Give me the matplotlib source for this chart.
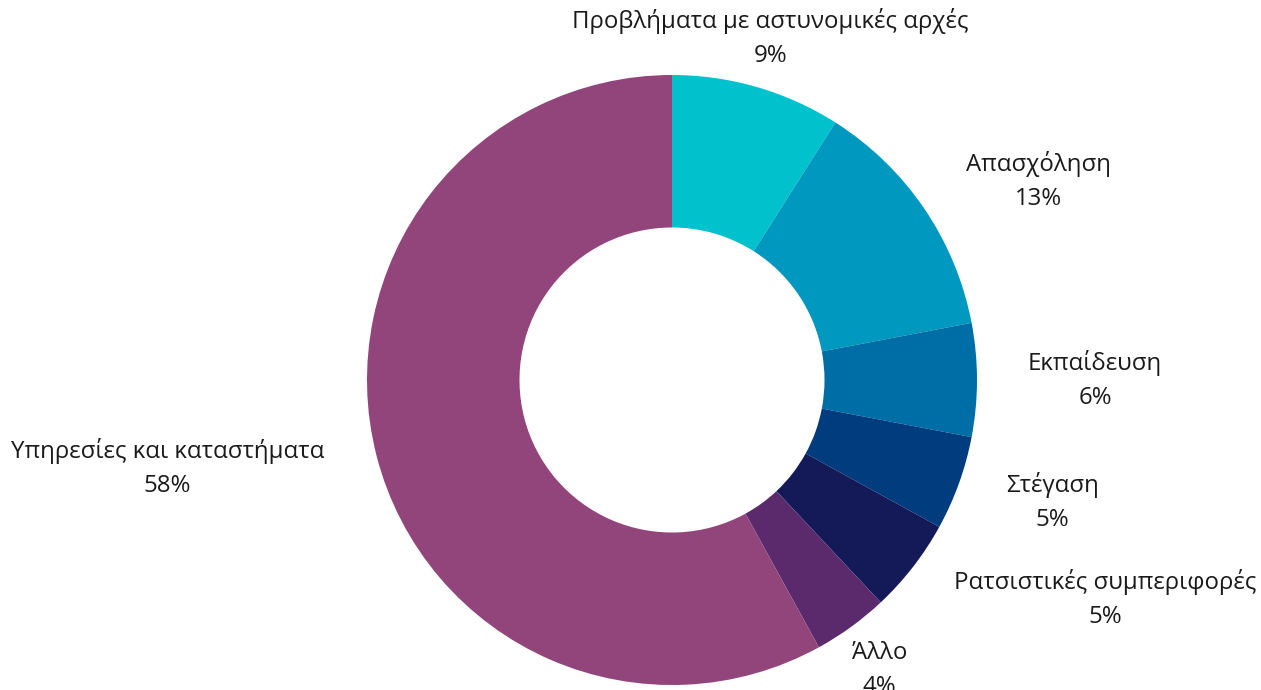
import matplotlib
matplotlib.use('Agg')
import matplotlib.pyplot as plt
import numpy as np

plt.rcParams['font.family'] = ['Open Sans', 'DejaVu Sans']

# Data (clockwise from 12 o'clock)
categories = ['Προβλήματα με αστυνομικές αρχές', 'Απασχόληση', 'Εκπαίδευση',
              'Στέγαση', 'Ρατσιστικές συμπεριφορές', 'Άλλο',
              'Υπηρεσίες και καταστήματα']
shares = [9, 13, 6, 5, 5, 4, 58]
colors = ['#00C1CC', '#0098BE', '#006EA6', '#003C7E', '#131A57', '#5A2A6C', '#92457B']

# label placement: (angle in degrees, distance in radii) from centre
label_pos = [(73.9, 1.167), (28.5, 1.367), (0.0, 1.387), (-17.8, 1.31),
             (-26.8, 1.59), (-54.4, 1.17), (189.9, 1.68)]

W, H, DPI = 1261, 690, 100
cx, cy, R = 672, 380, 305  # pixel centre and radius of the donut

fig = plt.figure(figsize=(W / DPI, H / DPI), dpi=DPI)
ax = fig.add_axes([0, 0, 1, 1])

ax.pie(shares, colors=colors, startangle=90, counterclock=False,
       radius=1.0, wedgeprops={'width': 0.5, 'linewidth': 0})

ax.set_xlim(-cx / R, (W - cx) / R)
ax.set_ylim(-(H - cy) / R, cy / R)
ax.set_aspect('equal')
ax.axis('off')

for cat, val, (ang, dist) in zip(categories, shares, label_pos):
    a = np.deg2rad(ang)
    x, y = dist * np.cos(a), dist * np.sin(a)
    ax.text(x, y, f'{cat}\n{val}%', ha='center', va='center',
            fontsize=17.3, color='#1a1a1a', linespacing=1.55)

fig.savefig('out.png', dpi=DPI)
